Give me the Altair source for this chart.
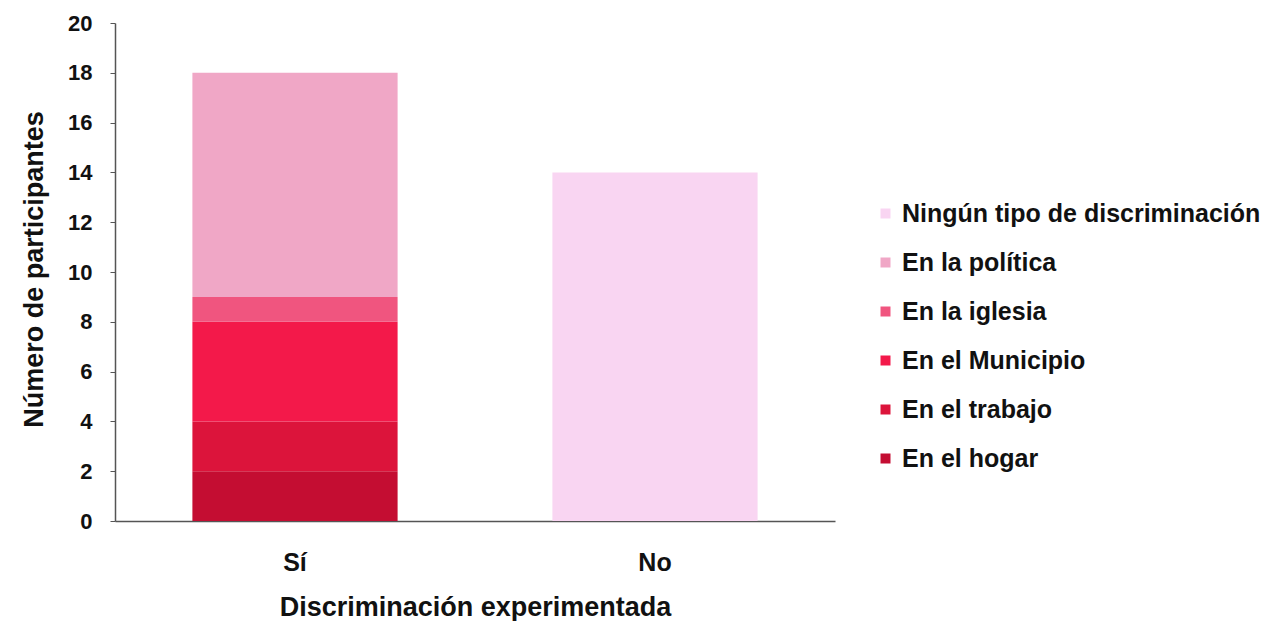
import altair as alt
import pandas as pd

categories = ["Sí", "No"]
types = ["En el hogar", "En el trabajo", "En el Municipio", "En la iglesia",
         "En la política", "Ningún tipo de discriminación"]
si_values = [2, 2, 4, 1, 9, 0]
no_values = [0, 0, 0, 0, 0, 14]

legend_order = ["Ningún tipo de discriminación", "En la política", "En la iglesia",
                "En el Municipio", "En el trabajo", "En el hogar"]
colors = ["#f9d5f2", "#f0a7c6", "#f0557f", "#f3194a", "#dc143b", "#c40d32"]

rows = []
for cat, vals in zip(categories, [si_values, no_values]):
    for i, (t, v) in enumerate(zip(types, vals)):
        rows.append({"cat": cat, "tipo": t, "valor": v, "orden": i})
df = pd.DataFrame(rows)

font = "Liberation Sans"
ink = "#111111"

chart = alt.Chart(df).mark_bar().encode(
    x=alt.X("cat:N", sort=categories,
            scale=alt.Scale(paddingInner=0.43, paddingOuter=0.215),
            axis=alt.Axis(title="Discriminación experimentada", labelAngle=0,
                          ticks=False, tickSize=0, labelPadding=29,
                          labelBaseline="top",
                          titleY=86, titleBaseline="middle",
                          domainColor="#555", domainWidth=1.5,
                          labelFontSize=25, titleFontSize=27,
                          labelFontWeight="bold", titleFontWeight="bold",
                          labelColor=ink, titleColor=ink,
                          labelFont=font, titleFont=font)),
    y=alt.Y("valor:Q", stack="zero",
            scale=alt.Scale(domain=[0, 20]),
            axis=alt.Axis(title="Número de participantes", values=list(range(0, 21, 2)),
                          grid=False, tickSize=5, tickColor="#555",
                          domainColor="#555", domainWidth=1.5,
                          labelPadding=18,
                          titleX=-81, titleY=246, titleAngle=-90,
                          titleAlign="center", titleBaseline="middle",
                          labelFontSize=22, titleFontSize=27,
                          labelFontWeight="bold", titleFontWeight="bold",
                          labelColor=ink, titleColor=ink,
                          labelFont=font, titleFont=font)),
    color=alt.Color("tipo:N", scale=alt.Scale(domain=legend_order, range=colors),
                    legend=alt.Legend(title=None, orient="none", legendX=758, legendY=178,
                                      padding=0, labelLimit=0,
                                      symbolType="square", symbolSize=100,
                                      symbolStrokeWidth=0,
                                      labelFontSize=25, labelFontWeight="bold",
                                      labelColor=ink, labelFont=font,
                                      rowPadding=23, labelOffset=4)),
    order=alt.Order("orden:Q", sort="ascending"),
).properties(
    width=720, height=498,
    autosize=alt.AutoSizeParams(type="none"),
    padding={"left": 107, "top": 15, "right": 430, "bottom": 100},
).configure_view(stroke=None)

chart.save("out.html", embed_options={"renderer": "svg", "actions": False})
